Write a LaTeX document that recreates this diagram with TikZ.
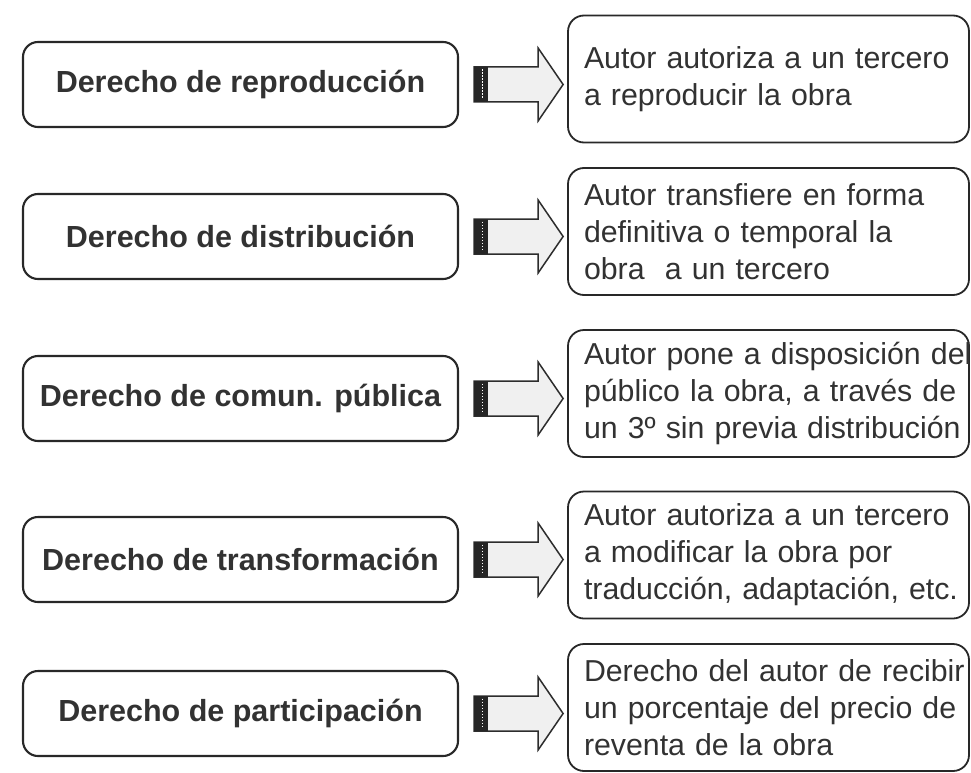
\documentclass[tikz,border=0pt]{standalone}
\usepackage{fontspec}
\newfontfamily\izqfont{Liberation Sans}
\newfontfamily\derfont{Liberation Sans}
\usetikzlibrary{calc}
\definecolor{tinta}{RGB}{50,50,50}
\definecolor{borde}{RGB}{40,40,40}

\begin{document}
\begin{tikzpicture}[x=1pt,y=1pt,
   der/.style={draw=borde,line width=2.1pt,rounded corners=15pt,minimum width=435pt,minimum height=85pt,inner sep=0pt,text=tinta,font=\izqfont\bfseries\fontsize{30.5}{35}\selectfont},
   aut/.style={draw=borde,line width=1.8pt,rounded corners=16pt,minimum width=401pt,minimum height=127pt,text width=369pt,align=left,inner xsep=16pt,text=tinta,font=\derfont\fontsize{30.3}{37}\selectfont},
   flecha/.style={draw=gray!35!black,line width=1.5pt,fill=gray!12,line join=miter},
   banda/.style={fill=gray!30!black}]
\useasboundingbox[fill=white] (0,0) rectangle (971,-773);
%% ---- left column: the rights ----
\node[der] (d1) at (240.5,-84.5) {Derecho de reproducción};
\node[der] (d2) at (240.5,-236.5) {Derecho de distribución};
\node[der] (d3) at (240.5,-398.5) {Derecho de comun. pública};
\node[der] (d4) at (240.5,-559.5) {Derecho de transformación};
\node[der] (d5) at (240.5,-713.5) {Derecho de participación};
%% ---- right column: what each one means ----
\node[aut] (a1) at (768.5,-79) {Autor autoriza a un tercero\\a reproducir la obra};
\node[aut] (a2) at (768.5,-231.5) {Autor transfiere en forma\\definitiva o temporal la\\obra\ \ a un tercero};
\node[aut] (a3) at (768.5,-393.5) {\mbox{Autor pone a disposición del}\\\mbox{público la obra, a través de}\\\mbox{un 3º sin previa distribución}};
\node[aut] (a4) at (768.5,-555) {\mbox{Autor autoriza a un tercero}\\a modificar la obra por\\\mbox{traducción, adaptación, etc.}};
\node[aut] (a5) at (768.5,-707.5) {\mbox{Derecho del autor de recibir}\\\mbox{un porcentaje del precio de}\\reventa de la obra};
%% ---- block arrows ----
\foreach \i in {1,...,5}{
  \coordinate (c\i) at ($(d\i.east)+(15,0)$);
  \coordinate (p\i) at ($(a\i.west |- d\i.east)+(-4,0)$);
  \draw[flecha] ($(c\i)+(0,17.5)$) -- ($(p\i)+(-25,17.5)$) -- ($(p\i)+(-25,36.5)$) -- (p\i)
     -- ($(p\i)+(-25,-36.5)$) -- ($(p\i)+(-25,-17.5)$) -- ($(c\i)+(0,-17.5)$) -- cycle;
  \fill[banda] ($(c\i)+(0,17.5)$) rectangle ($(c\i)+(14,-17.5)$);
  \draw[white,line width=1pt,dash pattern=on 1.5pt off 1.5pt] ($(c\i)+(8,15)$) -- ($(c\i)+(8,-15)$);
}
\end{tikzpicture}
\end{document}
